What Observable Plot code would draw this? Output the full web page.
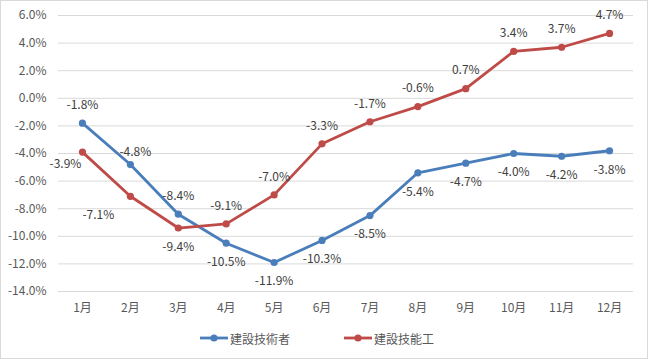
<!DOCTYPE html>
<html><head><meta charset="utf-8">
<script src="https://cdn.jsdelivr.net/npm/d3@7"></script>
<script src="https://cdn.jsdelivr.net/npm/@observablehq/plot@0.6"></script>
<style>
body{margin:0;background:#fff;}
#wrap{position:relative;width:648px;height:359px;box-sizing:border-box;border:1px solid #d9d9d9;background:#fff;font-family:"Noto Sans CJK JP","Noto Sans",sans-serif;}
#legend{position:absolute;left:0;top:326px;width:646px;height:22px;font-size:12px;color:#595959;}
.li{position:absolute;top:0;display:flex;align-items:center;height:22px;}
</style></head>
<body><div id="wrap"><div id="chart"></div><div id="legend"></div></div>
<script>
const months = ["1月","2月","3月","4月","5月","6月","7月","8月","9月","10月","11月","12月"];
const engineers = [-1.8,-4.8,-8.4,-10.5,-11.9,-10.3,-8.5,-5.4,-4.7,-4.0,-4.2,-3.8];
const workers = [-3.9,-7.1,-9.4,-9.1,-7.0,-3.3,-1.7,-0.6,0.7,3.4,3.7,4.7];
const seriesNames = ["建設技術者","建設技能工"];
const seriesColors = ["#4a7ebb","#be4b48"];
const yTicks = [-14,-12,-10,-8,-6,-4,-2,0,2,4,6];
// label placement codes (t = above, b = below, tr = above-right, bl = below-left, bll = far below-left)
const engineerLabelPos = ["t","tr","t","b","b","b","b","b","b","b","b","b"];
const workerLabelPos = ["bl","bll","b","t","t","t","t","t","t","t","t","t"];

const rows = [];
months.forEach((m,i)=>{
  rows.push({month:m, value:engineers[i], series:seriesNames[0], pos:engineerLabelPos[i]});
  rows.push({month:m, value:workers[i], series:seriesNames[1], pos:workerLabelPos[i]});
});
const offsets = {t:[0,-18], b:[0,19], tr:[5,-12], bl:[-17,12], bll:[-32,19]};
const fmt = v => v.toFixed(1) + "%";

const labelMarks = Object.entries(offsets).map(([k,[dx,dy]]) =>
  Plot.text(rows.filter(d=>d.pos===k), {x:"month", y:"value", text:d=>fmt(d.value), dx, dy,
    fill:"#404040", fontSize:12, lineAnchor:"middle"}));

const chart = Plot.plot({
  width:646, height:320,
  marginLeft:57, marginRight:14, marginTop:14, marginBottom:30,
  style:{fontFamily:'"Noto Sans CJK JP","Noto Sans",sans-serif', fontSize:"12px", background:"#fff"},
  x:{type:"point", domain:months, padding:0.5, round:false, label:null, tickSize:0, tickPadding:12},
  y:{domain:[-14,6], ticks:yTicks, tickFormat:fmt, label:null, tickSize:0, tickPadding:12},
  color:{domain:seriesNames, range:seriesColors},
  marks:[
    Plot.ruleY(yTicks, {stroke:"#d9d9d9", strokeWidth:1}),
    Plot.axisY({ticks:yTicks, tickFormat:fmt, tickSize:0, tickPadding:12, label:null, color:"#595959"}),
    Plot.axisX({tickSize:0, tickPadding:12, label:null, color:"#595959"}),
    Plot.line(rows, {x:"month", y:"value", stroke:"series", strokeWidth:2.8, z:"series"}),
    Plot.dot(rows, {x:"month", y:"value", fill:"series", r:3.6}),
    ...labelMarks
  ]
});
document.getElementById("chart").appendChild(chart);

const legend = document.getElementById("legend");
const lx = [199, 343];
seriesNames.forEach((n,i)=>{
  const d = document.createElement("div");
  d.className="li"; d.style.left = lx[i]+"px";
  d.innerHTML = `<svg width="30" height="10"><line x1="0" y1="5" x2="28" y2="5" stroke="${seriesColors[i]}" stroke-width="2.8"/><circle cx="14" cy="5" r="3.6" fill="${seriesColors[i]}"/></svg><span>${n}</span>`;
  legend.appendChild(d);
});
</script></body></html>
